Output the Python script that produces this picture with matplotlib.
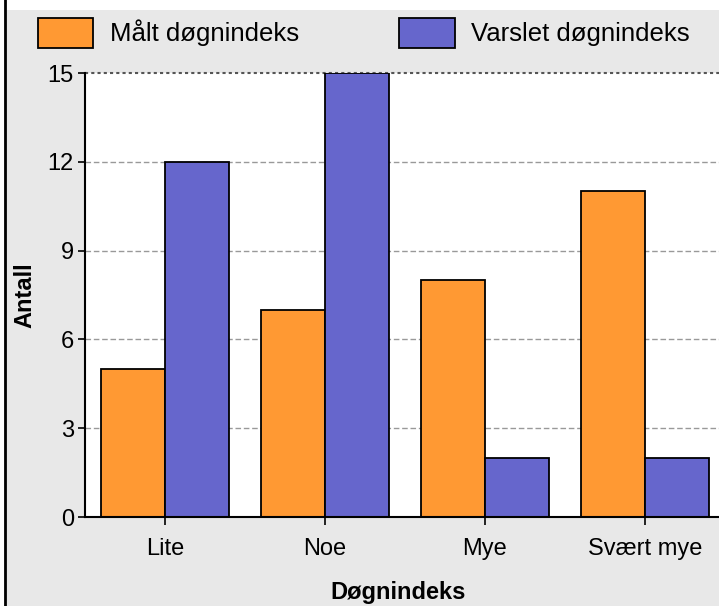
import numpy as np
import matplotlib.pyplot as plt
from matplotlib.patches import Rectangle, Patch

# Antall dager per døgnindeks-klasse
kategorier = ['Lite', 'Noe', 'Mye', 'Svært mye']
maalt = [5, 7, 8, 11]
varslet = [12, 15, 2, 2]

plt.rcParams['font.family'] = ['Liberation Sans', 'DejaVu Sans']

W, H = 719, 606
fig = plt.figure(figsize=(W / 100, H / 100), dpi=100)
fig.patch.set_facecolor('#E8E8E8')

# hvit kant oppe og til venstre + svart strek
fig.add_artist(Rectangle((0, 1 - 10 / H), 1, 10 / H, transform=fig.transFigure,
                         facecolor='white', edgecolor='none', zorder=0))
fig.add_artist(Rectangle((0, 0), 4 / W, 1, transform=fig.transFigure,
                         facecolor='white', edgecolor='none', zorder=0))
fig.add_artist(plt.Line2D([4.5 / W, 4.5 / W], [0, 1], transform=fig.transFigure,
                          color='black', lw=2))

ax = fig.add_axes([85 / W, (H - 517) / H, (725 - 85) / W, (517 - 73) / H])
ax.set_facecolor('white')

x = np.arange(len(kategorier))
bredde = 0.4
ax.bar(x - bredde / 2, maalt, bredde, color='#FF9933', edgecolor='black', linewidth=1.3, zorder=3)
ax.bar(x + bredde / 2, varslet, bredde, color='#6666CC', edgecolor='black', linewidth=1.3, zorder=3)

ax.set_xlim(-0.5, 3.5)
ax.set_ylim(0, 15)
ax.set_yticks([0, 3, 6, 9, 12, 15])
ax.set_xticks(x)
ax.set_xticklabels(kategorier)

for v in [3, 6, 9, 12]:
    ax.axhline(v, color='#999999', linestyle=(0, (4, 2)), linewidth=1, zorder=1)
ax.axhline(15, color='#555555', linestyle=(0, (1.5, 1.5)), linewidth=1.5, zorder=1, clip_on=False)

for s in ['top', 'right']:
    ax.spines[s].set_visible(False)
for s in ['left', 'bottom']:
    ax.spines[s].set_linewidth(1.5)
    ax.spines[s].set_zorder(4)

ax.tick_params(axis='y', length=5, width=1.2, labelsize=17, pad=3)
ax.tick_params(axis='x', length=6, width=1.2, labelsize=17, pad=9)

fig.text(25 / W, 1 - 295 / H, 'Antall', fontsize=17, fontweight='bold',
         rotation=90, ha='center', va='center')
fig.text(398 / W, 1 - 592 / H, 'Døgnindeks', fontsize=17, fontweight='bold',
         ha='center', va='center')

handles = [Patch(facecolor='#FF9933', edgecolor='black', linewidth=1.3, label='Målt døgnindeks'),
           Patch(facecolor='#6666CC', edgecolor='black', linewidth=1.3, label='Varslet døgnindeks')]
fig.legend(handles=handles, loc='upper left', bbox_to_anchor=(38 / W, 1 - 18 / H),
           ncol=2, frameon=False, fontsize=18.5, borderpad=0, borderaxespad=0,
           handlelength=2.15, handleheight=1.4, handletextpad=0.65, columnspacing=3.9)

fig.savefig('out.png', dpi=100, facecolor=fig.get_facecolor())
